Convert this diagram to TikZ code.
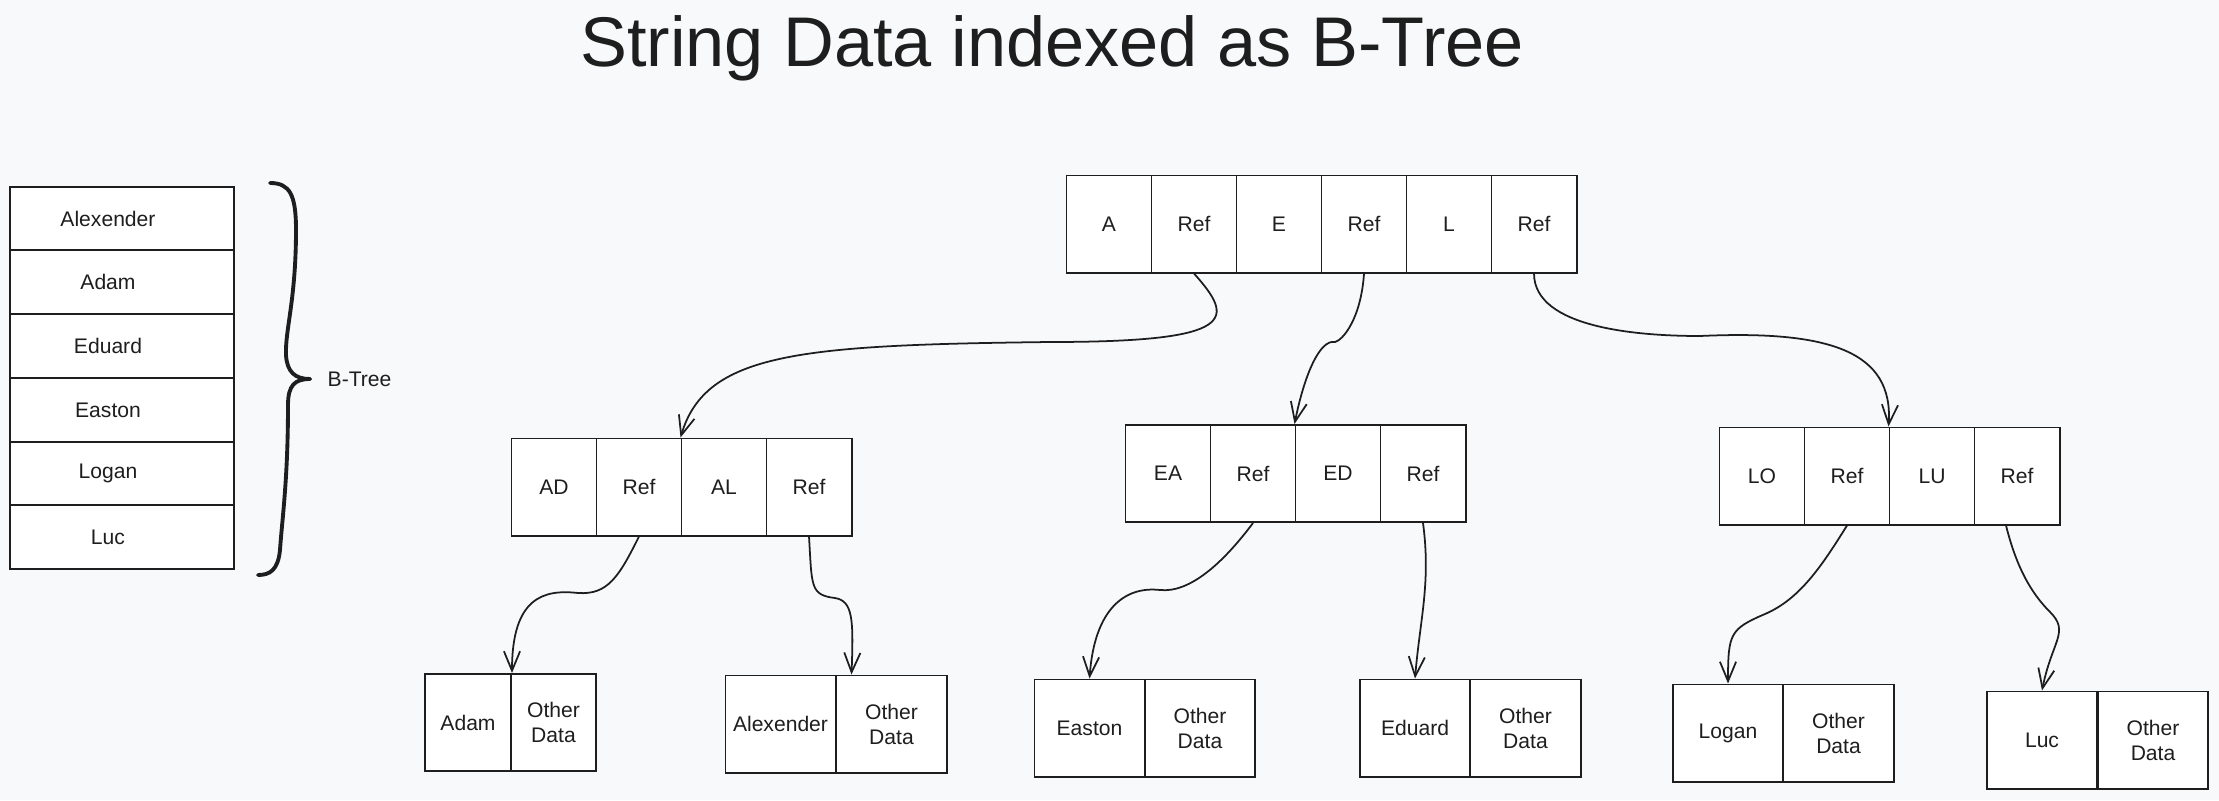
\documentclass[tikz,border=0pt]{standalone}
\usepackage{fontspec}
\setmainfont{Liberation Sans}
\usetikzlibrary{arrows.meta}
\definecolor{bgcol}{HTML}{F8F9FA}
\definecolor{ink}{HTML}{1E1E1E}
\tikzset{
  cell/.style={draw=ink, fill=white, line width=0.55pt, minimum width=0.85cm, minimum height=0.97cm, inner sep=0pt, text=ink, font=\fontsize{6}{7.1}\selectfont},
  leafcell/.style={cell, minimum width=1.1cm, align=center},
  rowbox/.style={cell, minimum width=2.24cm, minimum height=0.637cm, execute at begin node=\hspace*{-0.28cm}},
  link/.style={draw=ink, line width=0.5pt, -{Straight Barb[angle=45:6pt]}},
}
\begin{document}
\begin{tikzpicture}[x=0.01cm, y=-0.01cm]
%\draw[step=100,gray,very thin] (0,0) grid (2219,800);
\fill[bgcol] (0,0) rectangle (2219,800);
\node[text=ink, font=\fontsize{20}{24}\selectfont, anchor=base] (title) at (1052,67) {String Data indexed as B-Tree};
% list of strings
\node[rowbox] (lalex) at (122,218.5) {Alexender};
\node[rowbox] (ladam) at (122,282) {Adam};
\node[rowbox] (leduard) at (122,346) {Eduard};
\node[rowbox] (leaston) at (122,410) {Easton};
\node[rowbox] (llogan) at (122,473.5) {Logan};
\node[rowbox] (lluc) at (122,537) {Luc};
\draw[ink, line width=1.1pt, line cap=round] (270,183) .. controls (290,183) and (296,195) .. (296,230) .. controls (296,300) and (285,330) .. (286,355) .. controls (287,372) and (295,379) .. (310,379);
\draw[ink, line width=1.1pt, line cap=round] (310,379) .. controls (295,379) and (288,385) .. (288,405) .. controls (288,480) and (282,520) .. (280,550) .. controls (278,570) and (270,575) .. (258,575);
\node[text=ink, font=\fontsize{6}{7.1}\selectfont, anchor=west, inner sep=0pt] (bname) at (327,379) {B-Tree};
% root
\node[cell] (rootA) at (1109,224) {A};
\node[cell] (rootAref) at (1194,224) {Ref};
\node[cell] (rootE) at (1279,224) {E};
\node[cell] (rootEref) at (1364,224) {Ref};
\node[cell] (rootL) at (1449,224) {L};
\node[cell] (rootLref) at (1534,224) {Ref};
% second level
\node[cell] (nAD) at (554,487) {AD};
\node[cell] (nADref) at (639,487) {Ref};
\node[cell] (nAL) at (724,487) {AL};
\node[cell] (nALref) at (809,487) {Ref};
\node[cell] (nEA) at (1168,473.5) {EA};
\node[cell] (nEAref) at (1253,473.5) {Ref};
\node[cell] (nED) at (1338,473.5) {ED};
\node[cell] (nEDref) at (1423,473.5) {Ref};
\node[cell] (nLO) at (1762,476) {LO};
\node[cell] (nLOref) at (1847,476) {Ref};
\node[cell] (nLU) at (1932,476) {LU};
\node[cell] (nLUref) at (2017,476) {Ref};
% leaves
\node[leafcell, minimum width=0.86cm] (adam) at (468,722.5) {Adam};
\node[leafcell, minimum width=0.85cm] (adamdata) at (553.5,722.5) {Other\\Data};
\node[leafcell] (alex) at (780.5,724) {Alexender};
\node[leafcell] (alexdata) at (891.5,724) {Other\\Data};
\node[leafcell] (easton) at (1089.5,728) {Easton};
\node[leafcell] (eastondata) at (1200,728) {Other\\Data};
\node[leafcell] (eduard) at (1415,728) {Eduard};
\node[leafcell] (eduarddata) at (1525.5,728) {Other\\Data};
\node[leafcell] (logan) at (1728,733) {Logan};
\node[leafcell] (logandata) at (1838.5,733) {Other\\Data};
\node[leafcell] (luc) at (2042,740) {Luc};
\node[leafcell] (lucdata) at (2153,740) {Other\\Data};
% links
\draw[link] (rootAref.south) .. controls +(40,45) and +(190,0) .. (1050,342) .. controls +(-250,3) and +(25,-85) .. (nAL.north west);
\draw[link] (rootEref.south) .. controls +(-3,45) and +(8,-2) .. (1335,342) .. controls +(-15,-3) and +(10,-50) .. (nED.north west);
\draw[link] (rootLref.south) .. controls +(0,55) and +(-60,0) .. (1700,336) .. controls +(130,-6) and +(5,-75) .. (nLU.north west);
\draw[link] (nADref.south) .. controls +(-20,40) and +(30,2) .. (578,593) .. controls +(-35,-4) and +(0,-75) .. (adam.north east);
\draw[link] (nALref.south) .. controls +(3,50) and +(-25,-3) .. (835,598) .. controls +(18,3) and +(2,-55) .. ([xshift=0.16cm]alexdata.north west);
\draw[link] (nEAref.south) .. controls +(-30,40) and +(30,3) .. (1160,590) .. controls +(-35,-4) and +(5,-70) .. (easton.north);
\draw[link] (nEDref.south) .. controls +(8,60) and +(5,-60) .. (eduard.north);
\draw[link] (nLOref.south) .. controls +(-25,40) and +(35,-15) .. (1765,614) .. controls +(-35,15) and +(0,-50) .. (logan.north);
\draw[link] ([xshift=-0.11cm]nLUref.south) .. controls +(10,40) and +(-20,-20) .. (2050,612) .. controls +(20,20) and +(10,-50) .. (luc.north);
\end{tikzpicture}
\end{document}
